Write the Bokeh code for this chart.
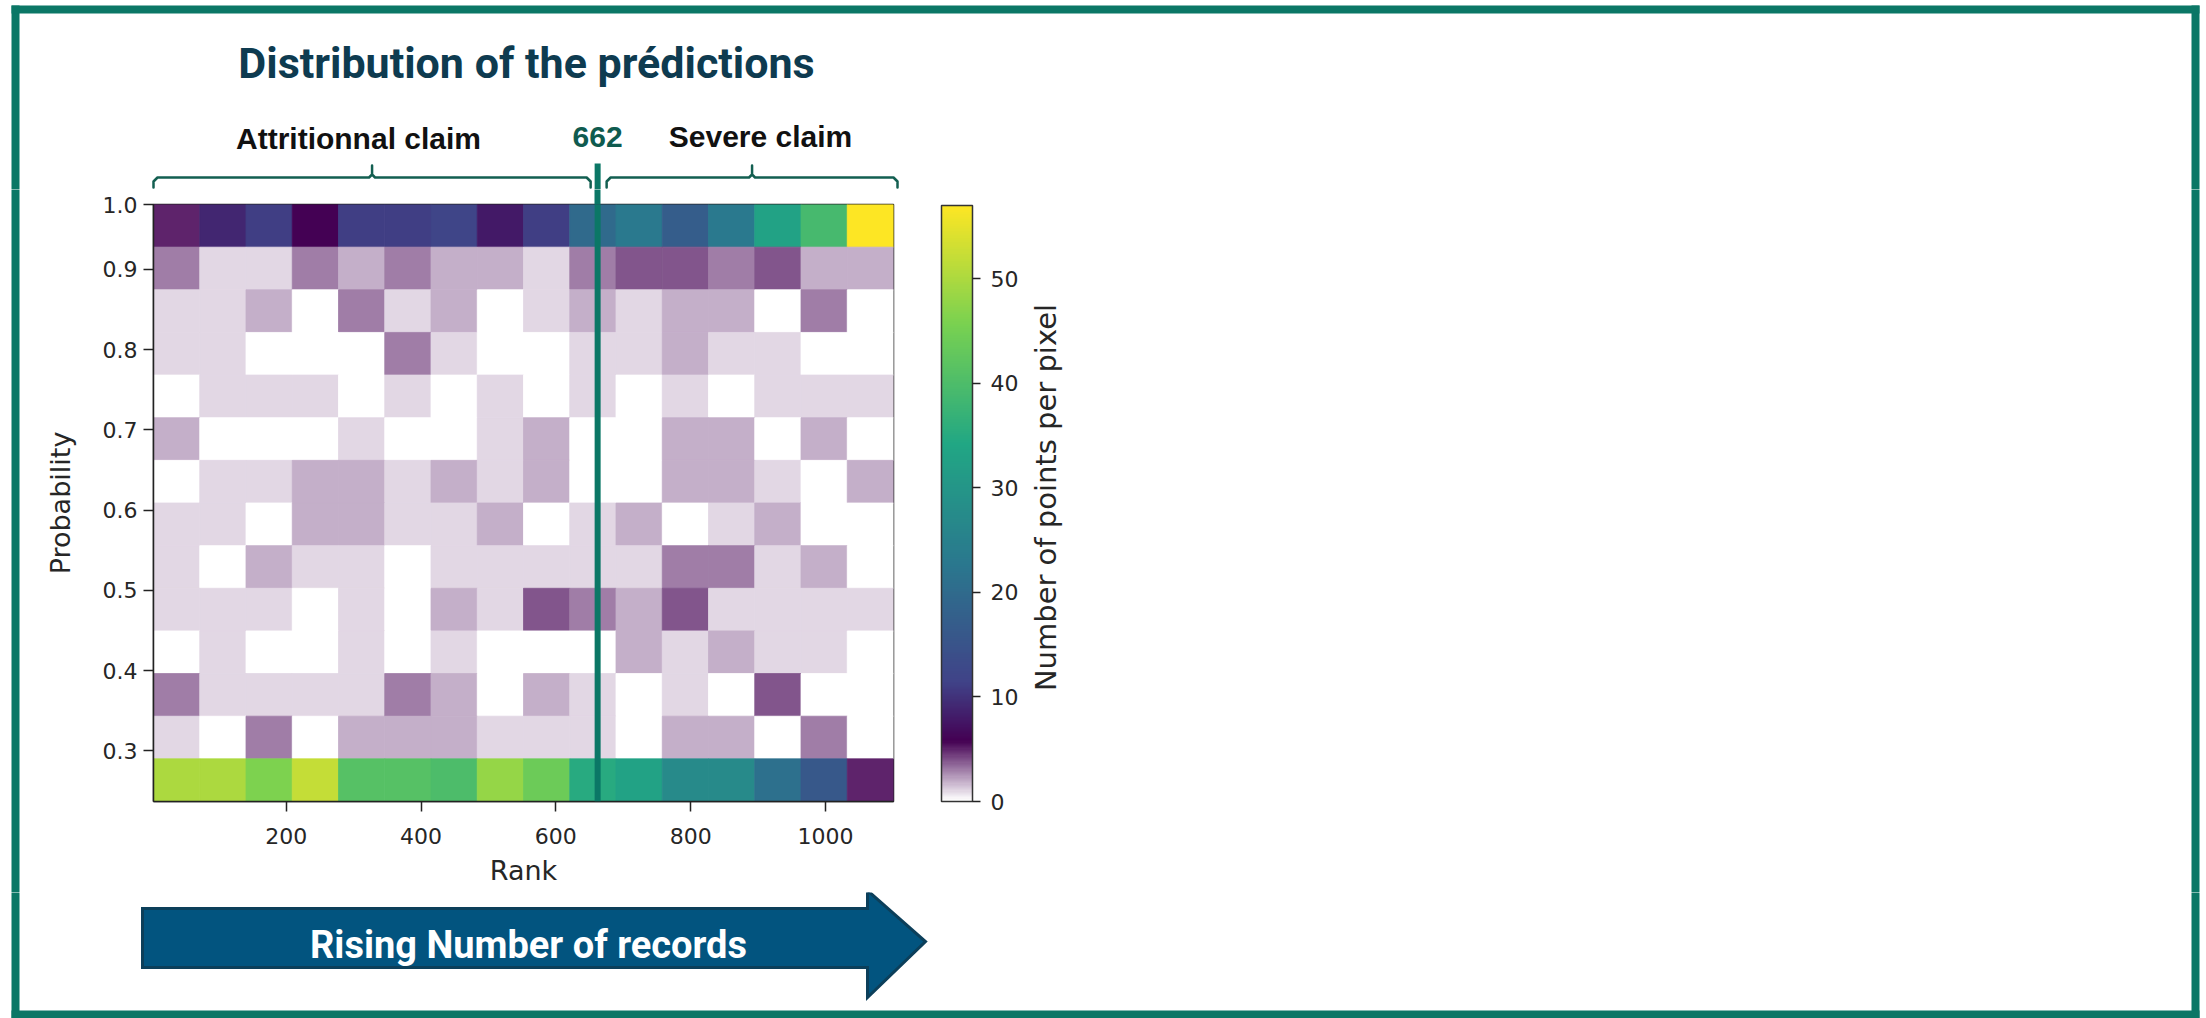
import numpy as np
from bokeh.plotting import figure
from bokeh.layouts import column, row
from bokeh.models import (LinearColorMapper, ColorBar, FixedTicker, Span, Range1d,
                          ColumnDataSource, LinearAxis)
from bokeh.core.properties import value
from bokeh.transform import linear_cmap
from bokeh.embed import file_html
from bokeh.resources import INLINE

# ---- data -------------------------------------------------------------
# extent of the 2-D histogram (rank of the record, predicted probability)
RANK_MIN, RANK_MAX = 3, 1101
PROB_MIN, PROB_MAX = 0.237, 0.981
N_RANK_BINS = 16
N_PROB_BINS = 14
THRESHOLD = 662          # rank separating attritional from severe claims
COUNT_MAX = 57

# number of points per bin; first row = highest probability band
COUNTS = [
    [5, 9, 11, 6, 11, 11, 12, 8, 11, 20, 23, 17, 23, 33, 39, 57],
    [3, 1, 1, 3, 2, 3, 2, 2, 1, 3, 4, 4, 3, 4, 2, 2],
    [1, 1, 2, 0, 3, 1, 2, 0, 1, 2, 1, 2, 2, 0, 3, 0],
    [1, 1, 0, 0, 0, 3, 1, 0, 0, 1, 1, 2, 1, 1, 0, 0],
    [0, 1, 1, 1, 0, 1, 0, 1, 0, 1, 0, 1, 0, 1, 1, 1],
    [2, 0, 0, 0, 1, 0, 0, 1, 2, 0, 0, 2, 2, 0, 2, 0],
    [0, 1, 1, 2, 2, 1, 2, 1, 2, 0, 0, 2, 2, 1, 0, 2],
    [1, 1, 0, 2, 2, 1, 1, 2, 0, 1, 2, 0, 1, 2, 0, 0],
    [1, 0, 2, 1, 1, 0, 1, 1, 1, 1, 1, 3, 3, 1, 2, 0],
    [1, 1, 1, 0, 1, 0, 2, 1, 4, 3, 2, 4, 1, 1, 1, 1],
    [0, 1, 0, 0, 1, 0, 1, 0, 0, 0, 2, 1, 2, 1, 1, 0],
    [3, 1, 1, 1, 1, 3, 2, 0, 2, 1, 0, 1, 0, 4, 0, 0],
    [1, 0, 3, 0, 2, 2, 2, 1, 1, 1, 0, 2, 2, 0, 3, 0],
    [50, 50, 46, 52, 41, 41, 40, 48, 44, 35, 33, 27, 27, 21, 16, 5],
]

X_TICKS = [200, 400, 600, 800, 1000]
Y_TICKS = [0.3, 0.4, 0.5, 0.6, 0.7, 0.8, 0.9]
TOP_TICK_LABEL = "1.0"
CBAR_TICKS = [0, 10, 20, 30, 40, 50]

TITLE = "Distribution of the prédictions"
LEFT_GROUP = "Attritionnal claim"
RIGHT_GROUP = "Severe claim"
ARROW_TEXT = "Rising Number of records"
CBAR_LABEL = "Number of points per pixel"

# ---- colour map: white fading into viridis ------------------------------
STOPS = [(0.0, "#ffffff"), (0.1, "#440053"), (0.2, "#404388"), (0.4, "#2a788e"),
         (0.6, "#21a784"), (0.8, "#78d151"), (1.0, "#fde624")]


def _rgb(h):
    return np.array([int(h[i:i + 2], 16) for i in (1, 3, 5)], dtype=float)


def build_palette(n=256):
    pos = np.array([s[0] for s in STOPS])
    cols = np.array([_rgb(s[1]) for s in STOPS])
    out = []
    for t in np.linspace(0, 1, n):
        c = [np.interp(t, pos, cols[:, k]) for k in range(3)]
        out.append("#%02x%02x%02x" % tuple(int(round(v)) for v in c))
    return out


PALETTE = build_palette()

# ---- page geometry (pixels) -------------------------------------------
W, H = 2206, 1018
FL, FR, FT, FB = 153, 893, 203, 801      # heatmap frame on the page
TOP_B = 189                              # bottom of the top band
LEFT_W = 25                              # left strip carrying the page border
HEAT_R = 1030                            # right edge of the heatmap figure
MID_B = 892                              # bottom of the middle band
GREEN = "#0b7766"
DARK_GREEN = "#135f51"
NAVY = "#0e3b50"
TXT = "#262626"
TICK_FONT = "DejaVu Sans"
BORDER = 8
BL, BR, BT, BB = 11, 2199, 5, 1018       # outer edges of the page border


def px_x(px):
    """page pixel -> rank"""
    return RANK_MIN + (px - FL) / (FR - FL) * (RANK_MAX - RANK_MIN)


def x_px(x):
    """rank -> page pixel"""
    return FL + (x - RANK_MIN) / (RANK_MAX - RANK_MIN) * (FR - FL)


def deco_fig(x0, x1, y0, y1):
    """Blank figure whose data units are page pixels (y growing downwards)."""
    f = figure(width=x1 - x0, height=y1 - y0, x_range=Range1d(x0, x1),
               y_range=Range1d(y1, y0), output_backend="svg", toolbar_location=None,
               x_axis_location=None, y_axis_location=None, min_border=0, title=None,
               frame_align=False)
    f.outline_line_color = None
    f.background_fill_color = "white"
    f.border_fill_color = "white"
    f.xgrid.visible = False
    f.ygrid.visible = False
    f.extra_x_ranges = {"rank": Range1d(px_x(x0), px_x(x1))}
    return f


def border_quads(f, y0, y1, top=False, bottom=False):
    # vertical sides run a little past the band so neighbouring bands join cleanly
    ls, rs, ts, bs = [BL, BR - BORDER], [BL + BORDER, BR], [y0 - 3, y0 - 3], [y1 + 3, y1 + 3]
    if top:
        ts = [BT, BT]
        ls.append(BL); rs.append(BR); ts.append(BT); bs.append(BT + BORDER)
    if bottom:
        bs = [BB, BB]
        ls.append(BL); rs.append(BR); ts.append(BB - BORDER); bs.append(BB)
    f.quad(left=ls, right=rs, top=ts, bottom=bs, fill_color=GREEN, line_color=None)


tx = x_px(THRESHOLD)

# ---- top band: title, group labels, brackets ------------------------------
top = deco_fig(0, W, 0, TOP_B)
border_quads(top, BT, TOP_B, top=True)
top.text(x=[526], y=[62], text=[TITLE], text_align="center", text_baseline="middle",
         text_font=value("Roboto"), text_font_style="bold", text_font_size="43px",
         text_color=NAVY)
top.text(x=[358, 760], y=[137.5, 136], text=[LEFT_GROUP, RIGHT_GROUP], text_align="center",
         text_baseline="middle", text_font=value("Liberation Sans"),
         text_font_style="bold", text_font_size="30px", text_color="#111111")
top.text(x=[THRESHOLD], y=[136], text=[str(THRESHOLD)], x_range_name="rank",
         text_align="center", text_baseline="middle", text_font=value("Liberation Sans"),
         text_font_style="bold", text_font_size="30px", text_color="#0f5b4f")


def bracket(a, b):
    mid = (a + b) / 2
    y, yd, yt = 177, 187, 165
    xs = [a, a, a + 4, mid - 3, mid, mid, mid, mid + 3, b - 4, b, b]
    ys = [yd, y + 4, y, y, y - 3, yt, y - 3, y, y, y + 4, yd]
    return xs, ys


bl = bracket(FL, tx - 7)
br = bracket(tx + 9, 897)
top.multi_line(xs=[bl[0], br[0]], ys=[bl[1], br[1]], line_color=DARK_GREEN, line_width=2.5,
               line_join="round", line_cap="round")
top.segment(x0=[THRESHOLD], x1=[THRESHOLD], y0=[163], y1=[TOP_B + 2], x_range_name="rank",
            line_color=GREEN, line_width=6)

# ---- heatmap ----------------------------------------------------------------
heat = figure(width=HEAT_R - LEFT_W, height=MID_B - TOP_B,
              x_range=Range1d(RANK_MIN, RANK_MAX), y_range=Range1d(PROB_MIN, PROB_MAX),
              output_backend="svg", toolbar_location=None, title=None, frame_align=False,
              min_border_left=FL - LEFT_W, min_border_right=HEAT_R - FR,
              min_border_top=FT - TOP_B, min_border_bottom=MID_B - FB)
heat.background_fill_color = "white"
heat.border_fill_color = "white"
heat.outline_line_color = "#222222"
heat.outline_line_width = 1.5
heat.xgrid.visible = False
heat.ygrid.visible = False

x_edges = np.linspace(RANK_MIN, RANK_MAX, N_RANK_BINS + 1)
y_edges = np.linspace(PROB_MAX, PROB_MIN, N_PROB_BINS + 1)
left, right, tops, bottoms, count = [], [], [], [], []
for r, row_vals in enumerate(COUNTS):
    for c, v in enumerate(row_vals):
        left.append(x_edges[c])
        right.append(x_edges[c + 1])
        tops.append(y_edges[r])
        bottoms.append(y_edges[r + 1])
        count.append(v)

cells = ColumnDataSource(dict(left=left, right=right, top=tops, bottom=bottoms, count=count))
cmap = linear_cmap("count", PALETTE, 0, COUNT_MAX)
heat.quad(left="left", right="right", top="top", bottom="bottom", source=cells,
          fill_color=cmap, line_color=cmap, line_width=0.8)

# main axes (grab them before the threshold axis is added)
xax = heat.below[0]
yax = heat.left[0]

# threshold line across the frame, continued upward by a single long tick
heat.add_layout(Span(location=THRESHOLD, dimension="height", line_color=GREEN,
                     line_width=6))
thr_axis = LinearAxis(ticker=FixedTicker(ticks=[THRESHOLD]),
                      major_tick_out=FT - TOP_B + 1, major_tick_in=0,
                      minor_tick_out=0, minor_tick_in=0,
                      major_tick_line_color=GREEN, major_tick_line_width=6,
                      major_tick_line_cap="butt", axis_line_color=None,
                      major_label_overrides={THRESHOLD: ""}, major_label_standoff=0,
                      major_label_text_font_size="0px")
heat.add_layout(thr_axis, "above")

for ax in (xax, yax):
    ax.major_tick_out = 10
    ax.major_tick_in = 0
    ax.minor_tick_out = 0
    ax.minor_tick_in = 0
    ax.axis_line_color = "#222222"
    ax.axis_line_width = 1.5
    ax.major_tick_line_color = "#222222"
    ax.major_tick_line_width = 1.5
    ax.major_label_text_font = TICK_FONT
    ax.major_label_text_font_size = "22px"
    ax.major_label_text_color = TXT
    ax.axis_label_text_font = TICK_FONT
    ax.axis_label_text_font_style = "normal"
    ax.axis_label_text_font_size = "27px"
    ax.axis_label_text_color = TXT

xax.ticker = FixedTicker(ticks=X_TICKS)
yax.ticker = FixedTicker(ticks=Y_TICKS + [PROB_MAX])
yax.major_label_overrides = {PROB_MAX: TOP_TICK_LABEL}
xax.major_label_standoff = 16
yax.major_label_standoff = 6
xax.axis_label = "Rank"
yax.axis_label = "Probability"
xax.axis_label_standoff = 8
yax.axis_label_standoff = 24

mapper = LinearColorMapper(palette=PALETTE, low=0, high=COUNT_MAX)
cb = ColorBar(color_mapper=mapper, ticker=FixedTicker(ticks=CBAR_TICKS),
              width=31, height=596, padding=0, margin=0, location=(48, 0),
              major_tick_out=8, major_tick_in=0, minor_tick_out=0, minor_tick_in=0,
              major_tick_line_color="#222222", major_tick_line_width=1.5,
              major_label_text_font=TICK_FONT, major_label_text_font_size="22px",
              major_label_text_color=TXT, label_standoff=10,
              bar_line_color="#333333", bar_line_width=1.5,
              background_fill_alpha=0)
heat.add_layout(cb, "right")

# ---- side strips ------------------------------------------------------------
left_strip = deco_fig(0, LEFT_W, TOP_B, MID_B)
border_quads(left_strip, TOP_B, MID_B)

right_part = deco_fig(HEAT_R, W, TOP_B, MID_B)
border_quads(right_part, TOP_B, MID_B)
right_part.text(x=[1045], y=[497], text=[CBAR_LABEL], angle=np.pi / 2, text_align="center",
                text_baseline="middle", text_font=value(TICK_FONT), text_font_size="29px",
                text_color=TXT)

# ---- bottom band: arrow -----------------------------------------------------
bottom = deco_fig(0, W, MID_B, H)
border_quads(bottom, MID_B, BB, bottom=True)
bottom.patch(x=[142, 867, 867, 925, 867, 867, 142], y=[908, 908, 890, 941, 997, 967, 967],
             fill_color="#02547f", line_color="#0c3f5a", line_width=3, line_join="miter")
bottom.text(x=[528], y=[944], text=[ARROW_TEXT], text_align="center",
            text_baseline="middle", text_font=value("Roboto"), text_font_style="bold",
            text_font_size="38px", text_color="white")

page = column(top, row(left_strip, heat, right_part, spacing=0), bottom, spacing=0)
open("out.html", "w").write(file_html(page, INLINE))
